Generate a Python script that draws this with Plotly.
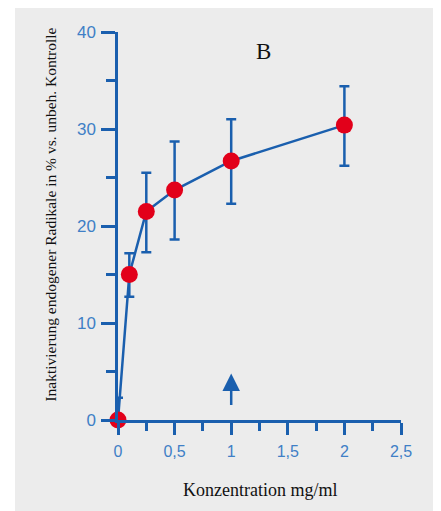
import plotly.graph_objects as go

conc = [0, 0.1, 0.25, 0.5, 1, 2]
inakt = [0, 15.0, 21.5, 23.7, 26.7, 30.4]
err_upper = [2.3, 17.2, 25.5, 28.7, 31.0, 34.4]
err_lower = [0, 12.7, 17.3, 18.6, 22.3, 26.2]
x_tickvals = [0, 0.5, 1, 1.5, 2, 2.5]
x_ticktext = ["0", "0,5", "1", "1,5", "2", "2,5"]
y_tickvals = [0, 10, 20, 30, 40]
y_ticktext = ["0", "10", "20", "30", "40"]
arrow_x = 1
arrow_tip = 4.8
arrow_base = 1.4

BLUE = "#1a5fae"
TICKBLUE = "#3f7fc6"
RED = "#e2001a"
BG = "#ececec"

plus = [u - v for u, v in zip(err_upper, inakt)]
minus = [v - l if l else 0 for v, l in zip(inakt, err_lower)]

fig = go.Figure()
fig.add_trace(go.Scatter(
    x=conc, y=inakt, mode="lines+markers",
    line=dict(color=BLUE, width=2.5),
    marker=dict(color=RED, size=17, line=dict(width=0)),
    error_y=dict(type="data", array=plus, arrayminus=minus, symmetric=False,
                 color=BLUE, thickness=2.5, width=5),
    cliponaxis=False, showlegend=False,
))

fig.add_annotation(x=arrow_x, y=arrow_tip, ax=arrow_x, ay=arrow_base,
                   xref="x", yref="y", axref="x", ayref="y", text="",
                   showarrow=True, arrowhead=2, arrowsize=1.4, arrowwidth=2.5,
                   arrowcolor=BLUE)

serif = "Liberation Serif, Times New Roman, serif"
fig.add_annotation(text="B", x=0.515, y=0.951, xref="paper", yref="paper",
                   xanchor="center", yanchor="middle",
                   showarrow=False, font=dict(family=serif, size=23, color="#111"))
fig.add_annotation(text="Konzentration mg/ml", x=0.5, y=-0.1804, xref="paper", yref="paper",
                   xanchor="center", yanchor="middle",
                   showarrow=False, font=dict(family=serif, size=18, color="#111"))
fig.add_annotation(text="Inaktivierung endogener Radikale in % vs. unbeh. Kontrolle",
                   x=-0.240, y=0.5296, xref="paper", yref="paper", textangle=-90,
                   xanchor="center", yanchor="middle",
                   showarrow=False, font=dict(family=serif, size=15.5, color="#111"))

fig.add_shape(type="rect", xref="paper", yref="paper", x0=-0.364, x1=1.4, y0=-0.45, y1=1.062,
              fillcolor=BG, line=dict(width=0), layer="below")

fig.update_xaxes(range=[0, 2.5], showline=True, linecolor=BLUE, linewidth=2.5,
                 showgrid=False, zeroline=False, ticks="outside", ticklen=12, tickwidth=2.5,
                 tickcolor=BLUE, tickvals=x_tickvals, ticktext=x_ticktext, ticklabelstandoff=3,
                 tickfont=dict(family="Liberation Sans, Arial", size=16, color=TICKBLUE),
                 minor=dict(dtick=0.25, ticks="outside", ticklen=8, tickwidth=2.5, tickcolor=BLUE))
fig.update_yaxes(range=[0, 40], showline=True, linecolor=BLUE, linewidth=2.5,
                 showgrid=False, zeroline=False, ticks="outside", ticklen=14, tickwidth=2.5,
                 tickcolor=BLUE, tickvals=y_tickvals, ticktext=y_ticktext, ticklabelstandoff=2,
                 tickfont=dict(family="Liberation Sans, Arial", size=17, color=TICKBLUE),
                 minor=dict(dtick=5, ticks="outside", ticklen=9, tickwidth=2.5, tickcolor=BLUE))

fig.update_layout(width=441, height=511, margin=dict(l=110, r=48, t=24, b=99),
                  paper_bgcolor="white", plot_bgcolor="rgba(0,0,0,0)")
fig.write_html("out.html")
